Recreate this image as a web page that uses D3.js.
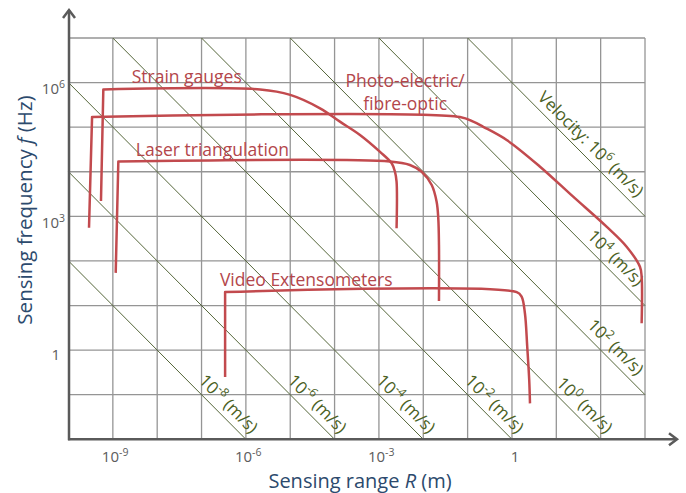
<!DOCTYPE html>
<html lang="en">
<head>
<meta charset="UTF-8">
<title>Sensing range vs sensing frequency</title>
<script src="https://cdn.jsdelivr.net/npm/d3@7"></script>
<style>
  body { margin: 0; background: #fff; }
  text { font-family: "Open Sans", sans-serif; }
</style>
</head>
<body>
<svg id="chart" width="686" height="493"></svg>
<script>
// axis ticks (labelled decades)
var xTicks = [1e-9, 1e-6, 1e-3, 1];
var yTicks = [1, 1e3, 1e6];

// constant velocity lines v = R * f (m/s)
var velocities = [1e-8, 1e-6, 1e-4, 1e-2, 1, 1e2, 1e4, 1e6];

// sensor envelopes, [range R (m), frequency f (Hz)]
var sensorNames = ["Strain gauges", "Photo-electric/fibre-optic", "Laser triangulation", "Video Extensometers"];
var strainGauges = [[5.4e-10, 2.2e3], [6.1e-10, 7.0e5], [2.1e-6, 7.0e5], [1.0e-5, 5.3e5], [4.7e-5, 2.65e5],
    [1.32e-4, 1.33e5], [3.74e-4, 6.7e4], [1.06e-3, 2.8e4], [1.94e-3, 1.55e4], [2.3e-3, 1.0e4],
    [2.5e-3, 6.0e3], [2.5e-3, 540]];
var photoElectric = [[2.9e-10, 556], [3.4e-10, 1.7e5], [0.067, 1.7e5], [0.134, 1.33e5], [0.225, 1.02e5],
    [0.76, 5.15e4], [4.3, 1.3e4], [24, 2.76e3], [136, 586], [385, 208], [769, 74], [840, 44], [840, 4.0]];
var laserTriangulation = [[1.16e-9, 54], [1.33e-9, 1.7e4], [1.77e-3, 1.7e4], [5.0e-3, 1.42e4], [9.2e-3, 1.0e4],
    [1.55e-2, 5.05e3], [2.0e-2, 2.13e3], [2.18e-2, 903], [2.26e-2, 227], [2.26e-2, 12.6]];
var videoExtensometers = [[3.4e-7, 0.25], [3.4e-7, 20], [1.28, 20], [1.65, 15.8], [1.96, 6.7],
    [2.21, 1.19], [2.45, 0.214], [2.55, 0.064]];
var sensors = [strainGauges, photoElectric, laserTriangulation, videoExtensometers];

// where the sensor names sit, in data units
var labelAt = [[2.66e-9, 9.6e5], [3.9e-3, 7.8e5], [3.3e-9, 2.3e4], [2.6e-7, 28]];

var svg = d3.select("#chart");
var x = d3.scaleLog().domain([1e-10, 1e3]).range([68.5, 645]);
var y = d3.scaleLog().domain([1e-2, 1e7]).range([439.3, 38]);

var red = "#c24a4e", green = "#55663a", axisGray = "#5a5a5a", navy = "#2c4a6d";

// grid, one line per decade
var xGrid = d3.range(-9, 4).map(function(e) { return Math.pow(10, e); });
var yGrid = d3.range(-1, 8).map(function(e) { return Math.pow(10, e); });
svg.append("g").selectAll("line").data(xGrid).enter().append("line")
    .attr("x1", function(d) { return x(d); }).attr("x2", function(d) { return x(d); })
    .attr("y1", y(1e7)).attr("y2", y(1e-2))
    .attr("stroke", "#959595").attr("stroke-width", 1.3);
svg.append("g").selectAll("line").data(yGrid).enter().append("line")
    .attr("y1", function(d) { return y(d); }).attr("y2", function(d) { return y(d); })
    .attr("x1", x(1e-10)).attr("x2", x(1e3))
    .attr("stroke", "#959595").attr("stroke-width", 1.3);

// velocity diagonals
var xd = x.domain(), yd = y.domain();
var diag = velocities.map(function(v) {
    var r1 = Math.max(xd[0], v / yd[1]), r2 = Math.min(xd[1], v / yd[0]);
    return { v: v, a: [r1, v / r1], b: [r2, v / r2], right: v / yd[0] > xd[1] };
});
svg.append("g").selectAll("line").data(diag).enter().append("line")
    .attr("x1", function(d) { return x(d.a[0]); }).attr("y1", function(d) { return y(d.a[1]); })
    .attr("x2", function(d) { return x(d.b[0]); }).attr("y2", function(d) { return y(d.b[1]); })
    .attr("stroke", green).attr("stroke-width", 1);

var s2 = Math.SQRT1_2;
diag.forEach(function(d) {
    var back = d.right ? 19 : 0, off = 7;
    var ax = x(d.b[0]) - back * s2 + off * s2;
    var ay = y(d.b[1]) - back * s2 - off * s2;
    var t = svg.append("text")
        .attr("transform", "translate(" + ax + "," + ay + ") rotate(45)")
        .attr("text-anchor", "end")
        .attr("font-size", 17)
        .attr("fill", "#4b6124");
    if (d.v === 1e6) t.append("tspan").text("Velocity: ");
    t.append("tspan").text("10");
    t.append("tspan").attr("font-size", 12).attr("dy", -7).text(Math.round(Math.log10(d.v)));
    t.append("tspan").attr("dy", 7).text(" (m/s)");
});

// sensor curves: straight rising leg, then a smooth roll-off
var straight = d3.line().x(function(d) { return x(d[0]); }).y(function(d) { return y(d[1]); });
var smooth = d3.line().x(function(d) { return x(d[0]); }).y(function(d) { return y(d[1]); })
    .curve(d3.curveCatmullRom.alpha(0.5));
svg.append("g").selectAll("path").data(sensors).enter().append("path")
    .attr("d", function(d) { return straight(d.slice(0, 2)) + smooth(d.slice(1)).replace(/^M/, "L"); })
    .attr("fill", "none").attr("stroke", red).attr("stroke-width", 2.5)
    .attr("stroke-linejoin", "round");

sensorNames.forEach(function(name, i) {
    var p = labelAt[i];
    var t = svg.append("text")
        .attr("x", x(p[0])).attr("y", y(p[1]))
        .attr("font-size", 17.5).attr("fill", "#b3464b");
    if (name.indexOf("/") > 0) {
        var parts = name.split("/");
        t.attr("text-anchor", "middle");
        t.append("tspan").attr("x", x(p[0])).text(parts[0] + "/");
        t.append("tspan").attr("x", x(p[0])).attr("dy", 22.7).text(parts[1]);
    } else {
        t.text(name);
    }
});

// axes with open arrow heads
var x0 = x(1e-10) + 0.5, y0 = y(1e-2);
svg.append("line").attr("x1", x0).attr("y1", y0 + 1).attr("x2", x0).attr("y2", 10)
    .attr("stroke", axisGray).attr("stroke-width", 2.5);
svg.append("line").attr("x1", x0 - 1).attr("y1", y0).attr("x2", 677).attr("y2", y0)
    .attr("stroke", axisGray).attr("stroke-width", 2.5);
svg.append("polyline").attr("points", (x0 - 6) + ",18 " + x0 + ",10 " + (x0 + 6) + ",18")
    .attr("fill", "none").attr("stroke", axisGray).attr("stroke-width", 2.5);
svg.append("polyline").attr("points", "669," + (y0 - 6) + " 677," + y0 + " 669," + (y0 + 6))
    .attr("fill", "none").attr("stroke", axisGray).attr("stroke-width", 2.5);

// tick labels
function powLabel(sel, d) {
    if (d === 1) { sel.text("1"); return; }
    sel.append("tspan").text("10");
    sel.append("tspan").attr("font-size", 10.5).attr("dy", -6).text(Math.round(Math.log10(d)));
}
xTicks.forEach(function(d) {
    var t = svg.append("text")
        .attr("x", d === 1 ? x(d) + 3 : x(d) - 11).attr("y", 461.5)
        .attr("text-anchor", d === 1 ? "middle" : "start")
        .attr("font-size", 15).attr("fill", "#5c5c5c");
    powLabel(t, d);
});
yTicks.forEach(function(d) {
    var t = svg.append("text")
        .attr("x", d === 1 ? 60 : 65).attr("y", y(d) + (d === 1 ? 10 : 11.6))
        .attr("text-anchor", "end")
        .attr("font-size", 15).attr("fill", "#5c5c5c");
    powLabel(t, d);
});

// axis titles
var xt = svg.append("text").attr("x", 360).attr("y", 487.5).attr("text-anchor", "middle")
    .attr("font-size", 20).attr("fill", navy);
xt.append("tspan").text("Sensing range ");
xt.append("tspan").attr("font-style", "italic").text("R");
xt.append("tspan").text(" (m)");

var yt = svg.append("text").attr("transform", "translate(32,210) rotate(-90)").attr("text-anchor", "middle")
    .attr("font-size", 20.5).attr("fill", navy);
yt.append("tspan").text("Sensing frequency ");
yt.append("tspan").attr("font-style", "italic").text("f");
yt.append("tspan").text(" (Hz)");
</script>
</body>
</html>
